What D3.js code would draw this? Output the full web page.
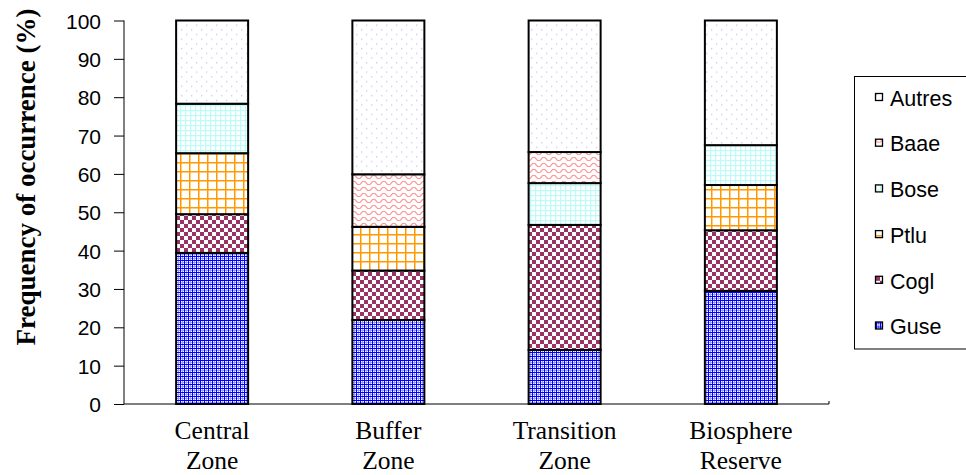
<!DOCTYPE html>
<html>
<head>
<meta charset="utf-8">
<script src="https://cdn.jsdelivr.net/npm/d3@7"></script>
<style>
  html, body { margin: 0; padding: 0; background: #fff; }
  svg { display: block; }
</style>
</head>
<body>
<svg id="chart" width="966" height="475"></svg>
<script>
// Frequency of occurrence (%) of species per zone
const zones = [["Central", "Zone"], ["Buffer", "Zone"], ["Transition", "Zone"], ["Biosphere", "Reserve"]];
const speciesOrder = ["Guse", "Cogl", "Ptlu", "Bose", "Baae", "Autres"];
const guse   = [39.4, 21.9, 14.1, 29.5];
const cogl   = [10.1, 12.9, 32.6, 15.8];
const ptlu   = [15.9, 11.4, 0.0, 11.8];
const bose   = [12.9, 0.0, 10.9, 10.4];
const baae   = [0.0, 13.7, 8.1, 0.0];
const autres = [21.7, 40.1, 34.3, 32.5];
const yTicks = [0, 10, 20, 30, 40, 50, 60, 70, 80, 90, 100];
const legendOrder = ["Autres", "Baae", "Bose", "Ptlu", "Cogl", "Guse"];

const seriesValues = { Guse: guse, Cogl: cogl, Ptlu: ptlu, Bose: bose, Baae: baae, Autres: autres };
const rows = zones.map((z, i) => {
  const r = { zone: z.join(" ") };
  speciesOrder.forEach(s => r[s] = seriesValues[s][i]);
  return r;
});

const svg = d3.select("#chart");
const defs = svg.append("defs");

// ---- fill patterns ----
function pattern(id, w, h, build) {
  const p = defs.append("pattern").attr("id", id)
    .attr("patternUnits", "userSpaceOnUse").attr("width", w).attr("height", h);
  p.append("rect").attr("width", w).attr("height", h).attr("fill", "#fff");
  build(p);
}
// Guse: fine blue grid
pattern("p-Guse", 4, 4, p => {
  p.append("rect").attr("x", 0).attr("y", 0).attr("width", 4).attr("height", 1).attr("fill", "#0000ff");
  p.append("rect").attr("x", 0).attr("y", 0).attr("width", 1).attr("height", 4).attr("fill", "#0000ff");
  p.append("rect").attr("x", 1).attr("y", 2).attr("width", 3).attr("height", 1).attr("fill", "#9a9aff");
  p.append("rect").attr("x", 2).attr("y", 1).attr("width", 1).attr("height", 3).attr("fill", "#9a9aff");
});
// Cogl: maroon checkerboard
pattern("p-Cogl", 8, 8, p => {
  p.append("rect").attr("x", 0).attr("y", 0).attr("width", 4).attr("height", 4).attr("fill", "#993366");
  p.append("rect").attr("x", 4).attr("y", 4).attr("width", 4).attr("height", 4).attr("fill", "#993366");
});
// Ptlu: open orange grid
pattern("p-Ptlu", 9, 9, p => {
  p.append("rect").attr("x", 0).attr("y", 0).attr("width", 9).attr("height", 1.5).attr("fill", "#ff9900");
  p.append("rect").attr("x", 0).attr("y", 0).attr("width", 1.5).attr("height", 9).attr("fill", "#ff9900");
});
// Bose: pale cyan grid
pattern("p-Bose", 5, 5, p => {
  p.append("rect").attr("x", 0).attr("y", 0).attr("width", 5).attr("height", 1.2).attr("fill", "#bdfafa");
  p.append("rect").attr("x", 0).attr("y", 0).attr("width", 1.2).attr("height", 5).attr("fill", "#bdfafa");
});
// Baae: pink zigzag
pattern("p-Baae", 10, 6, p => {
  p.append("path").attr("d", "M0,4.5 L2.5,1.5 L5,1.5 L7.5,4.5 L10,4.5")
    .attr("fill", "none").attr("stroke", "#ff9999").attr("stroke-width", 1.2);
});
// Autres: sparse lilac dots
pattern("p-Autres", 10, 9.4, p => {
  p.append("rect").attr("x", 1).attr("y", 1).attr("width", 1.3).attr("height", 1.3).attr("fill", "#c8c8f4");
  p.append("rect").attr("x", 6).attr("y", 5.7).attr("width", 1.3).attr("height", 1.3).attr("fill", "#c8c8f4");
});

// ---- scales ----
const x = d3.scaleBand().domain(rows.map(r => r.zone)).range([124, 829])
  .paddingInner(0.5915).paddingOuter(0.5915 / 2);
const y = d3.scaleLinear().domain([0, 100]).range([404, 20.5]);

const stacked = d3.stack().keys(speciesOrder)(rows);

// ---- bars ----
const g = svg.append("g");
stacked.forEach(layer => {
  g.append("g").selectAll("rect")
    .data(layer.filter(d => d[1] - d[0] > 0))
    .join("rect")
    .attr("x", d => x(d.data.zone))
    .attr("y", d => y(d[1]))
    .attr("width", x.bandwidth())
    .attr("height", d => y(d[0]) - y(d[1]))
    .attr("fill", `url(#p-${layer.key})`)
    .attr("stroke", "#000")
    .attr("stroke-width", 2);
});

// ---- y axis ----
const yAxis = d3.axisLeft(y).tickValues(yTicks).tickSize(10).tickPadding(13);
const ya = svg.append("g").attr("transform", "translate(124,0)").call(yAxis);
ya.select(".domain").attr("stroke", "#000").attr("d", "M0,20.5V404");
ya.selectAll(".tick line").attr("stroke", "#000");
ya.selectAll(".tick text")
  .attr("font-family", "Liberation Sans, Arial, sans-serif")
  .attr("font-size", 21).attr("fill", "#000").attr("dy", "0.36em");

// ---- x axis ----
const xAxis = d3.axisBottom(x).tickSize(0).tickFormat("");
const xa = svg.append("g").attr("transform", "translate(0,404)").call(xAxis);
xa.select(".domain").attr("stroke", "#000").attr("d", "M124,0H829V-3");

const labels = svg.append("g").selectAll("text")
  .data(rows)
  .join("text")
  .attr("text-anchor", "middle")
  .attr("font-family", "Liberation Serif, Times New Roman, serif")
  .attr("font-size", 25.5)
  .attr("fill", "#000");
labels.each(function(d, i) {
  const t = d3.select(this);
  const cx = x(d.zone) + x.bandwidth() / 2;
  zones[i].forEach((line, k) => {
    t.append("tspan").attr("x", cx).attr("y", 439 + k * 30).text(line);
  });
});

// ---- y axis title ----
svg.append("text")
  .attr("transform", "translate(35,177) rotate(-90)")
  .attr("text-anchor", "middle")
  .attr("font-family", "Liberation Serif, Times New Roman, serif")
  .attr("font-weight", "bold")
  .attr("font-size", 27)
  .attr("fill", "#000")
  .text("Frequency of occurrence (%)");

// ---- legend ----
const lg = svg.append("g");
lg.append("rect").attr("x", 854.5).attr("y", 76.5).attr("width", 120).attr("height", 272.5)
  .attr("fill", "#fff").attr("stroke", "#000").attr("stroke-width", 1);
const items = lg.selectAll("g.item").data(legendOrder).join("g")
  .attr("class", "item")
  .attr("transform", (d, i) => `translate(0,${98 + i * 45.7})`);
items.append("rect").attr("x", 875.5).attr("y", -4.5).attr("width", 7).attr("height", 7)
  .attr("fill", d => `url(#p-${d})`).attr("stroke", "#000").attr("stroke-width", 1.3);
items.append("text").attr("x", 890).attr("y", 0).attr("dy", "0.36em")
  .attr("font-family", "Liberation Sans, Arial, sans-serif")
  .attr("font-size", 21.5).attr("fill", "#000")
  .text(d => d);
</script>
</body>
</html>
